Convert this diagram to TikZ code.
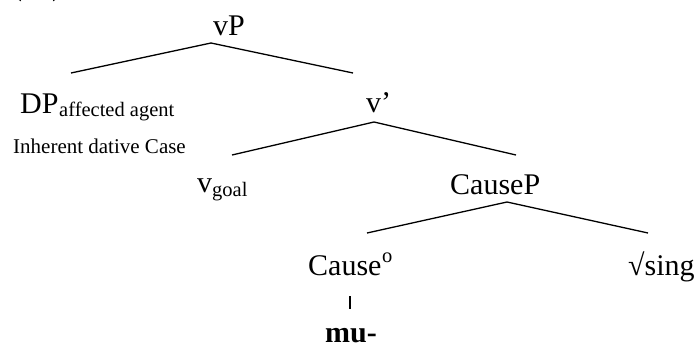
\documentclass[tikz,border=0pt]{standalone}
\usepackage{fontspec}
\setmainfont{Liberation Serif}
\begin{document}
\begin{tikzpicture}[x=1pt,y=-1pt,
  big/.style={font=\fontsize{30}{36}\selectfont, inner sep=0pt, anchor=base west},
  small/.style={font=\fontsize{20.5}{24}\selectfont, inner sep=0pt, anchor=base west},
  branch/.style={line width=1.3pt},
  bar/.style={line width=1.8pt}]
\path[use as bounding box] (0,0) rectangle (700,345);
\clip (0,0) rectangle (700,345);
% example number (cut off at the top)
\node[big] (exno) at (12,-4) {(\phantom{00})};
% labels
\node[big] (vP) at (213,35) {vP};
\node[big] (DP) at (20,113) {DP};
\node[small] (DPsub) at (59,116) {affected agent};
\node[small,font=\fontsize{21}{25}\selectfont] (inh) at (13,153) {Inherent dative Case};
\node[big] (vbar) at (366,112) {v’};
\node[big] (vg) at (197,192) {v};
\node[small] (vgsub) at (212,196) {goal};
\node[big] (CauseP) at (450,194) {CauseP};
\node[big] (Cause) at (308,275) {Cause};
\node[small] (Causesup) at (382,262) {o};
\node[big] (root) at (628,275) {√sing};
\node[big,font=\fontsize{30}{36}\selectfont\bfseries] (mu) at (325,342) {mu-};
% branch points
\coordinate (vPa) at (211,43);
\coordinate (vPl) at (71,73);
\coordinate (vPr) at (353,73);
\coordinate (vba) at (374,122);
\coordinate (vbl) at (232,155);
\coordinate (vbr) at (516,155);
\coordinate (cpa) at (507,202);
\coordinate (cpl) at (367,233);
\coordinate (cpr) at (648,233);
\coordinate (bart) at (350,296);
\coordinate (barb) at (350,309);
% branches
\draw[branch] (vPl) -- (vPa) -- (vPr);
\draw[branch] (vbl) -- (vba) -- (vbr);
\draw[branch] (cpl) -- (cpa) -- (cpr);
\draw[bar] (bart) -- (barb);
\end{tikzpicture}
\end{document}
